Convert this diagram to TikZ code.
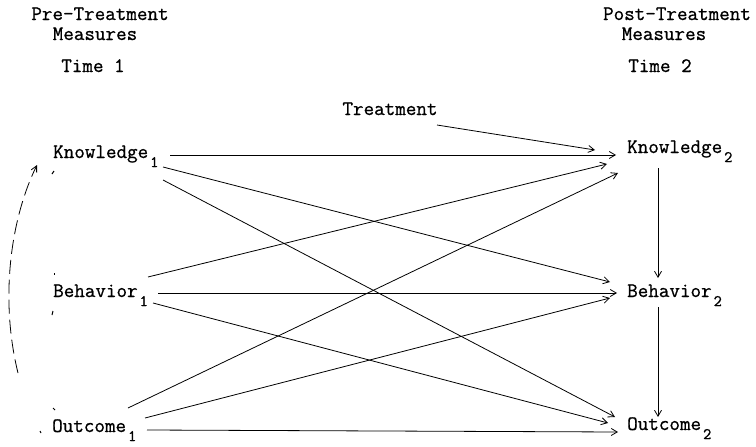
\documentclass[tikz,border=0pt]{standalone}
\usepackage{fontspec}
\setmonofont{Latin Modern Mono}[FakeBold=0.8]
\usetikzlibrary{arrows.meta}
% lowered index digit after a variable name
\newcommand\lowsub[1]{\hspace{2pt}\raisebox{-9pt}{\fontsize{16}{16}\selectfont #1}}
\begin{document}
\begin{tikzpicture}[x=1pt,y=-1pt,
  lbl/.style={inner sep=0pt, anchor=base west, font=\fontsize{20.5}{24}\selectfont\ttfamily},
  hdr/.style={inner sep=0pt, anchor=base, font=\fontsize{20.5}{24}\selectfont\ttfamily},
  link/.style={line width=0.8pt, -{Straight Barb[length=6pt,width=7pt]}},
  loop/.style={line width=0.8pt, dash pattern=on 14pt off 6pt, -{Straight Barb[length=6pt,width=6pt]}},
  speck/.style={line width=1pt}]
\useasboundingbox (0,0) rectangle (756,447);

% column headings
\node[hdr] (pre)      at (100,20) {Pre-Treatment};
\node[hdr] (premeas)  at (95,40)  {Measures};
\node[hdr] (t1)       at (93,72)  {Time 1};
\node[hdr] (post)     at (677,20) {Post-Treatment};
\node[hdr] (postmeas) at (664,40) {Measures};
\node[hdr] (t2)       at (660,72) {Time 2};
\node[hdr] (treat)    at (390,115) {Treatment};

% variables
\node[lbl] (k1) at (53,158)  {Knowledge\lowsub{1}};
\node[lbl] (b1) at (53,297)  {Behavior\lowsub{1}};
\node[lbl] (o1) at (52,432)  {Outcome\lowsub{1}};
\node[lbl] (k2) at (627,153) {Knowledge\lowsub{2}};
\node[lbl] (b2) at (627,297) {Behavior\lowsub{2}};
\node[lbl] (o2) at (627,430) {Outcome\lowsub{2}};

% connection points
\coordinate (tr-out) at (437,125);
\coordinate (k2-tr)  at (595,150);
\coordinate (k1-a) at (170,155);  \coordinate (k2-a) at (616,155);
\coordinate (k1-b) at (163,167);  \coordinate (b2-a) at (610,282);
\coordinate (k1-c) at (163,180);  \coordinate (o2-a) at (615,417);
\coordinate (b1-a) at (148,277);  \coordinate (k2-b) at (607,164);
\coordinate (b1-b) at (158,293);  \coordinate (b2-b) at (617,293);
\coordinate (b1-c) at (153,303);  \coordinate (o2-b) at (608,423);
\coordinate (o1-a) at (128,408);  \coordinate (k2-c) at (618,173);
\coordinate (o1-b) at (145,418);  \coordinate (b2-c) at (610,298);
\coordinate (o1-c) at (147,430);  \coordinate (o2-c) at (618,432);
\coordinate (k2-d) at (658,168);  \coordinate (b2-d) at (658,278);
\coordinate (b2-e) at (658,307);  \coordinate (o2-d) at (658,417);
\coordinate (o1-loop) at (18,373); \coordinate (k1-loop) at (37,165);

% treatment effect
\draw[link] (tr-out) -- (k2-tr);

% cross-lagged paths
\draw[link] (k1-a) -- (k2-a);
\draw[link] (k1-b) -- (b2-a);
\draw[link] (k1-c) -- (o2-a);
\draw[link] (b1-a) -- (k2-b);
\draw[link] (b1-b) -- (b2-b);
\draw[link] (b1-c) -- (o2-b);
\draw[link] (o1-a) -- (k2-c);
\draw[link] (o1-b) -- (b2-c);
\draw[link] (o1-c) -- (o2-c);

% post-treatment chain
\draw[link] (k2-d) -- (b2-d);
\draw[link] (b2-e) -- (o2-d);

% correlation among pre-treatment measures
\draw[loop] (o1-loop) .. controls (0,300) and (10,220) .. (k1-loop);

% small marks beside the left-hand labels
\draw[speck] (52,174) -- (54,171);
\draw[speck] (54,273) -- (54,275);
\draw[speck] (52,315) -- (53,311);
\draw[speck] (53,408) -- (55,410);
\draw[speck] (40,431) -- (41,433);
\end{tikzpicture}
\end{document}
